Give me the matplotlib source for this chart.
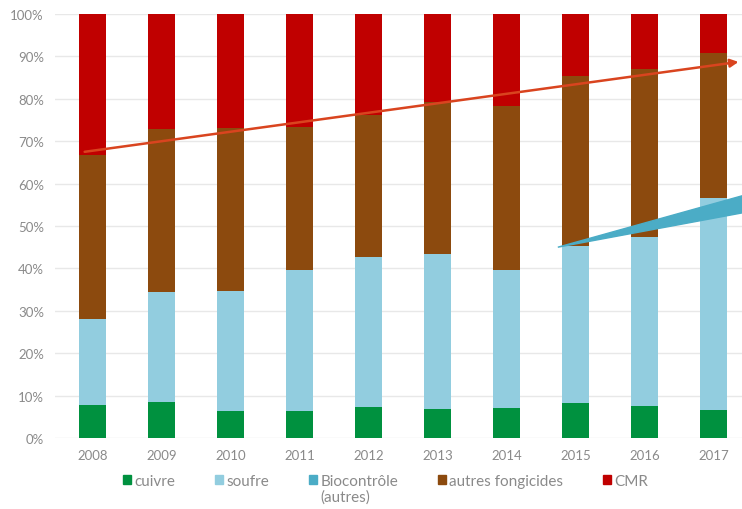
import matplotlib.pyplot as plt
import matplotlib.patches as mpatches
import numpy as np

years = ["2008", "2009", "2010", "2011", "2012", "2013", "2014", "2015", "2016", "2017"]
cuivre = [7.8, 8.5, 6.4, 6.4, 7.3, 6.8, 7.1, 8.2, 7.5, 6.6]
soufre = [20.2, 25.9, 28.3, 33.3, 35.4, 36.6, 32.6, 37.1, 39.9, 50.0]
biocontrole = [0, 0, 0, 0, 0, 0, 0, 0, 0, 0]
autres = [38.7, 38.5, 38.3, 33.6, 33.5, 35.8, 38.6, 40.1, 39.6, 34.2]
cmr = [33.3, 27.1, 27.0, 26.7, 23.8, 20.8, 21.7, 14.6, 13.0, 9.2]

series = [
    ("cuivre", cuivre, "#00913f"),
    ("soufre", soufre, "#92cddf"),
    ("Biocontrôle", biocontrole, "#4bacc6"),
    ("autres fongicides", autres, "#8c4a0e"),
    ("CMR", cmr, "#c00000"),
]

# trend annotations (data coordinates: bar index, percent)
cmr_arrow = [(-0.12, 67.5), (9.36, 88.7)]
bio_wedge = [(6.74, 45.0), (9.45, 57.3), (9.45, 53.2)]

plt.rcParams["font.family"] = ["Lato", "DejaVu Sans"]
grey = "#8a8a8a"

fig = plt.figure(figsize=(7.42, 5.10), dpi=100)
ax = fig.add_axes([55 / 742, 71 / 510, 687 / 742, 424 / 510])

x = np.arange(len(years))
bottom = np.zeros(len(years))
handles = []
for label, vals, color in series:
    vals = np.array(vals, dtype=float)
    ax.bar(x, vals, 0.39, bottom=bottom, color=color, zorder=2)
    bottom += vals
    handles.append(mpatches.Patch(color=color, label=label))

ax.set_xlim(-0.55, 9.41)
ax.set_ylim(0, 100)
ax.set_yticks(np.arange(0, 101, 10))
ax.set_yticklabels([f"{v}%" for v in range(0, 101, 10)])
ax.set_xticks(x)
ax.set_xticklabels(years)
ax.yaxis.grid(True, color="#e8e8e8", linewidth=1, zorder=0)
ax.set_axisbelow(True)
for s in ax.spines.values():
    s.set_visible(False)
ax.tick_params(length=0, colors=grey, labelsize=9.5)
ax.tick_params(axis="y", pad=8)
ax.tick_params(axis="x", pad=8)

ax.annotate("", xy=cmr_arrow[1], xytext=cmr_arrow[0],
            arrowprops=dict(arrowstyle="-|>", color="#d9441f", lw=1.8,
                            mutation_scale=12, shrinkA=0, shrinkB=0),
            annotation_clip=False, zorder=5)
ax.add_patch(mpatches.Polygon(bio_wedge, closed=True, color="#4bacc6",
                              clip_on=False, zorder=5))

leg = fig.legend(handles=handles, loc="upper center", bbox_to_anchor=(0.52, 0.096),
                 ncol=5, frameon=False, fontsize=11, labelcolor=grey,
                 handlelength=0.5, handleheight=0.5, handletextpad=0.25,
                 columnspacing=2.6)

# second line of the Biocontrôle label, under the first
fig.canvas.draw()
bb = leg.get_texts()[2].get_window_extent().transformed(fig.transFigure.inverted())
fig.text(bb.x0, bb.y0 - 0.003, "(autres)", ha="left", va="top",
         fontsize=11, color=grey)

fig.savefig("out.png", dpi=100)
